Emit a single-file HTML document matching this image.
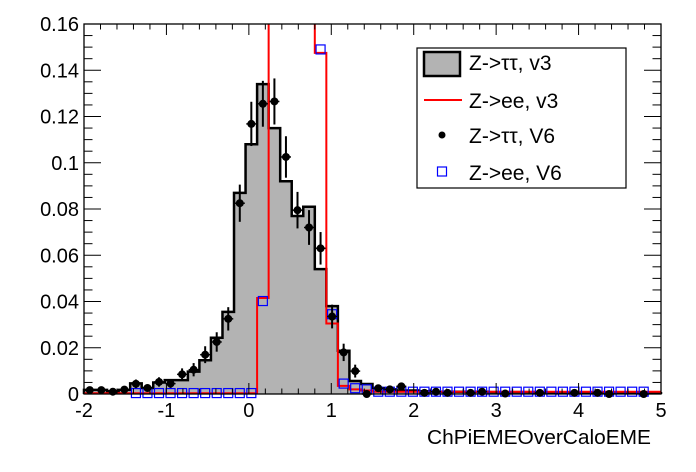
<!DOCTYPE html>
<html><head><meta charset="utf-8"><style>
body{margin:0;background:#fff;}
svg{display:block;font-family:"Liberation Sans",sans-serif;}
</style></head><body>
<svg id="s" width="696" height="472" xmlns="http://www.w3.org/2000/svg"></svg>
<script>
const L=84,R=661,T=24,B=394;
const X=v=>L+(v+2)*(R-L)/7, Y=v=>B-v*(B-T)/0.16;
const gray=[0.0018,0.0018,0.0012,0.0018,0.0046,0.0026,0.005,0.006,0.006,0.0097,0.0146,0.0243,0.0355,0.087,0.108,0.134,0.115,0.092,0.077,0.081,0.054,0.038,0.0187,0.0056,0.0043,0.0026,0.002,0.0015,0.0015,0.0012,0.001,0.001,0.001,0.001,0.001,0.0008,0.0008,0.0008,0.0008,0.0007,0.0007,0.0006,0.0006,0.0006,0.0005,0.0005,0.0005,0.0004,0.0004,0.0003];
const red=[];for(let k=0;k<50;k++)red.push(k<15?0.0003:0.001);
red[15]=0.0415;red[16]=red[17]=red[18]=red[19]=0.3;red[20]=0.1475;red[21]=0.0305;red[22]=0.0035;red[23]=0.002;red[24]=0.0015;
const pts=[0.0017,0.0017,0.001,0.0019,0.0044,0.0026,0.0052,0.0045,0.0085,0.0105,0.017,0.0225,0.0325,0.0825,0.1168,0.1255,0.1265,0.1025,0.0795,0.072,0.063,0.0335,0.018,0.0099,0,0.0025,0.002,0.0033,0,0.0005,0.001,0.0005,0,0.0005,0.001,0,0.0002,0,0,0.0005,0,0,0.0005,0,0.0005,0,0,0,0,0];
const errs=pts.map(v=>v>0?Math.max(0.0012,Math.sqrt(v)*0.028):0);
const blue=[];for(let k=0;k<50;k++)blue.push(k<4?null:(k<15?0.0004:0.001));
blue[15]=0.0402;blue[16]=blue[17]=blue[18]=blue[19]=null;blue[20]=0.149;blue[21]=0.0345;blue[22]=0.0045;blue[23]=0.0025;blue[24]=0.002;blue[49]=null;
let s='';
function step(vals){let d=`M${X(-2)},${B}`;for(let k=0;k<50;k++){const y=Y(vals[k]);d+=`L${X(-2+0.14*k)},${y}L${X(-2+0.14*(k+1))},${y}`;}return d+`L${X(5)},${B}`;}
s+=`<path d="${step(gray)}Z" fill="#b3b3b3" stroke="none"/>`;
s+=`<path d="${step(gray)}" fill="none" stroke="#000" stroke-width="2.5"/>`;
s+=`<clipPath id="c"><rect x="${L}" y="${T}" width="${R-L}" height="${B-T}"/></clipPath>`;
s+=`<path d="${step(red)}" fill="none" stroke="#f00" stroke-width="2" clip-path="url(#c)"/>`;
for(let k=0;k<50;k++){const cx=X(-2+0.14*(k+0.5));
 if(blue[k]!=null){const y=Y(blue[k]);s+=`<rect x="${cx-4.5}" y="${y-4.5}" width="9" height="9" fill="none" stroke="#00f" stroke-width="1.2"/>`;}
}
for(let k=0;k<50;k++){const cx=X(-2+0.14*(k+0.5));const v=pts[k];
 if(k>=24&&v===0&&k%3)continue;
 const y=Y(v);const e=errs[k]*2312.5;
 s+=`<line x1="${cx}" y1="${y-e}" x2="${cx}" y2="${y+e}" stroke="#000" stroke-width="2"/><circle cx="${cx}" cy="${y}" r="4" fill="#000"/><line x1="${cx-5}" y1="${y}" x2="${cx+5}" y2="${y}" stroke="#000" stroke-width="1.5"/>`;
}
s+=`<rect x="${L}" y="${T}" width="${R-L}" height="${B-T}" fill="none" stroke="#000" stroke-width="1.3"/>`;
for(let i=0;i<=32;i++){const v=i*0.005,y=Y(v),len=i%4==0?17:8.5;
 s+=`<line x1="${L}" y1="${y}" x2="${L+len}" y2="${y}" stroke="#000"/><line x1="${R}" y1="${y}" x2="${R-len}" y2="${y}" stroke="#000"/>`;
 if(i%4==0){const lab=v==0?'0':(+v.toFixed(2)).toString();s+=`<text x="${L-5}" y="${y+7}" font-size="20">${''}</text><text x="${L-5}" y="${y+7}" font-size="20" text-anchor="end">${lab}</text>`;}}
for(let i=0;i<=35;i++){const v=-2+i*0.2,x=X(v),len=i%5==0?11:5.5;
 s+=`<line x1="${x}" y1="${B}" x2="${x}" y2="${B-len}" stroke="#000"/><line x1="${x}" y1="${T}" x2="${x}" y2="${T+len}" stroke="#000"/>`;
 if(i%5==0)s+=`<text x="${x}" y="${B+23}" font-size="20" text-anchor="middle">${Math.round(v)}</text>`;}
s+=`<text x="651" y="444" font-size="20" text-anchor="end" textLength="224" lengthAdjust="spacingAndGlyphs">ChPiEMEOverCaloEME</text>`;
s+=`<rect x="417" y="48" width="209" height="140" fill="#fff" stroke="#000" stroke-width="1.2"/>`;
s+=`<rect x="424" y="52" width="36" height="24" fill="#b3b3b3" stroke="#000" stroke-width="2.5"/>`;
s+=`<line x1="424" y1="100" x2="462" y2="100" stroke="#f00" stroke-width="2"/>`;
s+=`<circle cx="442" cy="135" r="3.5" fill="#000"/>`;
s+=`<rect x="437.5" y="167" width="9" height="9" fill="none" stroke="#00f" stroke-width="1.2"/>`;
const labs=['Z-&gt;ττ, v3','Z-&gt;ee, v3','Z-&gt;ττ, V6','Z-&gt;ee, V6'],ly=[62,100,135,172];
labs.forEach((t,i)=>s+=`<text x="469" y="${ly[i]+8}" font-size="21">${t}</text>`);
document.getElementById('s').innerHTML=s;
</script>
</body></html>
